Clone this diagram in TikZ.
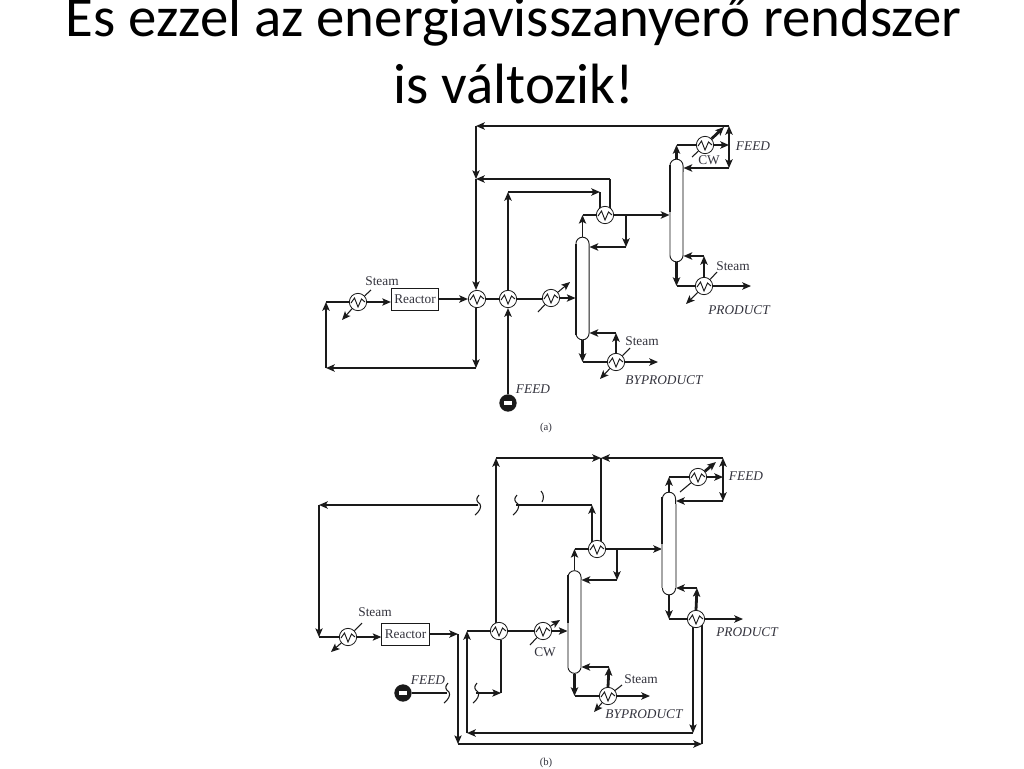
\documentclass[tikz,border=0pt]{standalone}
\usepackage{fontspec}
\setmainfont{Liberation Serif}
\newfontfamily\titlefont{Carlito}
\usetikzlibrary{arrows.meta,shapes.misc,backgrounds,calc}
\definecolor{ink}{HTML}{1A1A1A}
\definecolor{txt}{HTML}{33333D}
\tikzset{
 x=0.75pt,y=-0.75pt,
 thk/.style={draw=ink,line width=2.1pt,line join=miter},
 thn/.style={draw=ink,line width=0.8pt},
 tip/.style={-{Stealth[length=6.5pt,width=5.5pt,inset=1.5pt]}},
 hxn/.style={circle,draw=ink,line width=0.6pt,fill=white,minimum size=13pt,inner sep=0pt,
   path picture={\draw[ink,line width=0.7pt] ($(path picture bounding box.center)+(-7,1)$) -- ++(3.5,-5) -- ++(3.5,9) -- ++(3.5,-8) -- ++(3.5,3);}},
 colm/.style={rounded rectangle,rounded rectangle arc length=180,rotate=90,draw=ink,line width=0.7pt,fill=white,inner sep=0pt,minimum height=9.8pt,minimum width=77pt},
 lbl/.style={text=txt,font=\fontsize{10}{10}\selectfont,inner sep=0pt},
 ilbl/.style={text=txt,font=\fontsize{10}{10}\selectfont\itshape,inner sep=0pt},
 box/.style={draw=ink,line width=0.7pt,fill=white,inner sep=0pt,text=txt,font=\fontsize{10}{10}\selectfont},
 src/.style={circle,fill=ink,minimum size=13pt,inner sep=0pt,path picture={\fill[white] ($(path picture bounding box.center)+(-4,-2)$) rectangle ++(8,4);}},
 title/.style={font=\titlefont\fontsize{42.6}{46}\selectfont,text=black,inner sep=0pt,anchor=base},
 brk/.pic={\draw[thn] (1,-10) .. controls (-3,-6) and (-1,-3) .. (2,-1) .. controls (4,2) and (1,7) .. (-3,10);},
}
\begin{document}
\begin{tikzpicture}
\path[use as bounding box] (0,0) rectangle (1024,768);
\node[title] (t1) at (513.5,36) {Es ezzel az energiavisszanyerő rendszer};
\node[title] (t2) at (514,103) {is változik!};

% ---------- diagram (a)
\node[hxn] (aS) at (358,302) {};
\node[box,minimum width=35.5pt,minimum height=16.5pt] (aR) at (415,299) {Reactor};
\node[hxn] (a1) at (477,299) {};
\node[hxn] (a2) at (508,299) {};
\node[hxn] (a3) at (551,298) {};
\node[colm] (aC1) at (582.5,288.5) {};
\node[colm] (aC2) at (676.5,210.5) {};
\node[hxn] (aT) at (605,215) {};
\node[hxn] (aCW) at (705,145) {};
\node[hxn] (aP) at (704,286) {};
\node[hxn] (aB) at (616,362) {};
\node[src] (aF) at (508,403) {};
\node[lbl] (aL1) at (382,281) {Steam};
\node[ilbl] (aL2) at (533,389) {FEED};
\node[lbl] (aL3) at (709,160) {CW};
\node[ilbl] (aL4) at (753,146) {FEED};
\node[lbl] (aL5) at (733,266) {Steam};
\node[ilbl] (aL6) at (739,310) {PRODUCT};
\node[lbl] (aL7) at (642,341) {Steam};
\node[ilbl] (aL8) at (664,380) {BYPRODUCT};
\node[lbl,font=\fontsize{8}{8}\selectfont] (aL9) at (546,427.5) {(a)};

% ---------- diagram (b)
\node[hxn] (bS) at (348,637) {};
\node[box,minimum width=35.5pt,minimum height=16.5pt] (bR) at (405.5,634) {Reactor};
\node[hxn] (b1) at (499,631) {};
\node[hxn] (b3) at (543,631) {};
\node[colm] (bC1) at (574.5,622) {};
\node[colm] (bC2) at (669,543.5) {};
\node[hxn] (bT) at (597,549) {};
\node[hxn] (bCW) at (698,477) {};
\node[hxn] (bP) at (696,619) {};
\node[hxn] (bB) at (608,696) {};
\node[src] (bF) at (403,693) {};
\node[lbl] (bL1) at (375,612) {Steam};
\node[ilbl] (bL2) at (428,680) {FEED};
\node[lbl] (bL3) at (545,652) {CW};
\node[ilbl] (bL4) at (746,476) {FEED};
\node[ilbl] (bL6) at (747,632) {PRODUCT};
\node[lbl] (bL7) at (641,679) {Steam};
\node[ilbl] (bL8) at (644,714) {BYPRODUCT};
\node[lbl,font=\fontsize{8}{8}\selectfont] (bL9) at (546,763) {(b)};

\begin{scope}[on background layer]
\fill[white] (0,0) rectangle (1024,768);
% ---- (a) coordinates
\coordinate (aTopR) at (729,126);
\coordinate (aTopL) at (476,126);
\coordinate (aMid) at (476,179);
\coordinate (aMidR) at (610,179);
\coordinate (aBotC) at (476,368);
\coordinate (aBotL) at (326,368);
\coordinate (aLoop) at (326,302);
\coordinate (aUpL) at (508,192);
\coordinate (aUpR) at (600,192);
\coordinate (aCW1) at (729,168);
\coordinate (aCW0) at (729,145);
\coordinate (aBr) at (626,215);
\coordinate (aBr2) at (626,247);
\coordinate (aC1T) at (582.5,215);
\coordinate (aC2T) at (676.5,145);
\coordinate (aC2B) at (676.5,286);
\coordinate (aPu) at (704,256);
\coordinate (aC1B) at (582.5,362);
\coordinate (aBu) at (616,333);
% ---- (a) connectors
\draw[thk,tip] (aTopR) -- (aTopL);
\draw[thn,tip] (aTopL) -- (aMid);
\draw[thn,tip] (aMid) -- (aMid |- a1.north);
\draw[thn,tip] (aMid |- a1.south) -- (aBotC);
\draw[thn,line width=1.1pt,tip] (aMidR) -- (aMid);
\draw[thn] (aMidR) -- (aMidR |- aT.north east);
\draw[thk,tip] (aBotC) -- (aBotL);
\draw[thk,tip] (aBotL) -- (aLoop);
\draw[thn] (aLoop) -- (aS.west);
\draw[thn,tip] (aS.east) -- (aR.west |- aS.east);
\draw[thk,tip] (aR.east) -- (a1.west);
\draw[thk] (a1.east) -- (a2.west);
\draw[thk] (a2.east) -- (a2.east -| a3.west);
\draw[thn,tip] (a3.east) -- (a3.east -| aC1.north);
\draw[thk,tip] (aF.north) -- (a2.south);
\draw[thk,tip] (a2.north) -- (aUpL);
\draw[thk,tip] (aUpL) -- (aUpR);
\draw[thk] (aUpR) -- (aUpR |- aT.north west);
\draw[thn,tip] (aC1.east) -- (aC1T);
\draw[thk] (aC1T) -- (aT.west);
\draw[thk,tip] (aT.east) -- (aT.east -| aC2.north);
\draw[thk,tip] (aBr) -- (aBr2);
\draw[thk,tip] (aBr2) -- (aBr2 -| aC1.south);
\draw[thk,tip] (aC2.east) -- (aC2T);
\draw[thn] (aC2T) -- (aCW.west);
\draw[thk,tip] (aCW.east) -- (aCW0);
\draw[thn] (692,157) -- (aCW);
\draw[thk,tip] (aCW) -- (724,127);
\draw[thk,tip] (aCW0) -- (aTopR);
\draw[thk,tip] (aCW0) -- (aCW1);
\draw[thk,tip] (aCW1) -- (aCW1 -| aC2.south);
\draw[thk,tip] (aC2.west) -- (aC2B);
\draw[thn] (aC2B) -- (aP.west);
\draw[thk,tip] (aP.east) -- (751,286);
\draw[thk,tip] (aP.north) -- (aPu);
\draw[thk,tip] (aPu) -- (aPu -| aC2.south);
\draw[thn] (aP) -- (717,272);
\draw[thn,tip] (aP) -- (686,304);
\draw[thk,tip] (aC1.west) -- (aC1B);
\draw[thk] (aC1B) -- (aB.west);
\draw[thk,tip] (aB.east) -- (658,362);
\draw[thk,tip] (aB.north) -- (aBu);
\draw[thk,tip] (aBu) -- (aBu -| aC1.south);
\draw[thn] (aB) -- (630,348);
\draw[thn,tip] (aB) -- (600,379);
\draw[thn] (aS) -- (371,290);
\draw[thn,tip] (aS) -- (342,320);
\draw[thn] (538,312) -- (a3);
\draw[thn,tip] (a3) -- (570,282);

% ---- (b) coordinates
\coordinate (bTopL) at (496,458);
\coordinate (bTopM) at (601,458);
\coordinate (bTopR) at (723,458);
\coordinate (bBrA) at (478,505);
\coordinate (bBrB) at (516,505);
\coordinate (bLoopT) at (319,505);
\coordinate (bLoopB) at (319,637);
\coordinate (bV) at (458,634);
\coordinate (bVb) at (458,744);
\coordinate (bHr) at (702,744);
\coordinate (bW) at (467,733);
\coordinate (bWu) at (467,631);
\coordinate (bVr) at (693,733);
\coordinate (bSide) at (501,693);
\coordinate (bBrC) at (476,693);
\coordinate (bBrD) at (447,693);
\coordinate (bBrE) at (592,505);
\coordinate (bBr) at (617,549);
\coordinate (bBr2) at (617,580);
\coordinate (bCW1) at (723,501);
\coordinate (bCW0) at (723,477);
\coordinate (bC1T) at (574.5,549);
\coordinate (bC2T) at (669,477);
\coordinate (bC2B) at (669,619);
\coordinate (bPu) at (697,588);
\coordinate (bC1B) at (574.5,696);
\coordinate (bBu) at (609,667);
% ---- (b) connectors
\draw[thk,tip] (bTopL |- b1.center) -- (bTopL);
\draw[thk,tip] (bTopL) -- (bTopM);
\draw[thk,tip] (bTopR) -- (bTopM);
\draw[thn] (bTopM) -- (bTopM |- bT.north east);
\draw[thk,tip] (bBrA) -- (bLoopT);
\draw[thn,tip] (bLoopT) -- (bLoopB);
\draw[thk] (bLoopB) -- (bS.west);
\draw[thn,tip] (bS.east) -- (bR.west |- bS.east);
\draw[thk,tip] (bR.east) -- (bV);
\draw[thn,tip] (bV) -- (bVb);
\draw[thk,tip] (bVb) -- (bHr);
\draw[thk] (bHr) -- (bHr |- bP.south east);
\draw[thk,tip] (bVr) -- (bW);
\draw[thk,tip] (bW) -- (bWu);
\draw[thk] (bWu) -- (b1.west);
\draw[thn,tip] (bVr |- bP.south west) -- (bVr);
\draw[thn] (b1.east) -- (b3.west);
\draw[thn,tip] (b3.east) -- (b3.east -| bC1.north);
\draw[thn] (bSide |- b1.south) -- (bSide);
\draw[thn,tip] (bBrC) -- (bSide);
\draw[thk] (bF.east) -- (bBrD);
\draw[thk] (bBrB) -- (bBrE);
\draw[thk,tip] (bBrE |- bT.north west) -- (bBrE);
\draw[thn,tip] (bC1.east) -- (bC1T);
\draw[thk] (bC1T) -- (bT.west);
\draw[thk,tip] (bT.east) -- (bT.east -| bC2.north);
\draw[thk,tip] (bBr) -- (bBr2);
\draw[thk,tip] (bBr2) -- (bBr2 -| bC1.south);
\draw[thk,tip] (bC2.east) -- (bC2T);
\draw[thn] (bC2T) -- (bCW.west);
\draw[thk,tip] (bCW.east) -- (bCW0);
\draw[thn] (680,492) -- (bCW);
\draw[thk,tip] (bCW) -- (716,462);
\draw[thk,tip] (bCW0) -- (bTopR);
\draw[thk,tip] (bCW0) -- (bCW1);
\draw[thk,tip] (bCW1) -- (bCW1 -| bC2.south);
\draw[thk,tip] (bC2.west) -- (bC2B);
\draw[thk] (bC2B) -- (bP.west);
\draw[thk,tip] (bP.east) -- (743,619);
\draw[thk,tip] (bP.north) -- (bPu);
\draw[thk,tip] (bPu) -- (bPu -| bC2.south);
\draw[thk,tip] (bC1.west) -- (bC1B);
\draw[thk] (bC1B) -- (bB.west);
\draw[thk,tip] (bB.east) -- (650,696);
\draw[thk,tip] (bB.north) -- (bBu);
\draw[thn,tip] (bBu) -- (bBu -| bC1.south);
\draw[thn] (bB) -- (622,685);
\draw[thn,tip] (bB) -- (594,712);
\draw[thn] (bS) -- (362,623);
\draw[thn,tip] (bS) -- (331,652);
\draw[thn] (530,645) -- (b3);
\draw[thn,tip] (b3) -- (560,620);
\end{scope}

% column wall accents
\draw[thk] (670,165) -- (670,212);
\draw[thn] (576,244) -- (576,335);
\draw[thk] (568,575) -- (568,623);
\draw[thk] (662,497) -- (662,544);
\draw[draw=gray!70,line width=1.2pt] (581,580) -- (581,668);
\draw[draw=gray!70,line width=1.2pt] (568,623) -- (568,668);
\draw[draw=gray!70,line width=1.2pt] (676,504) -- (676,588);
\draw[draw=gray!70,line width=1.2pt] (662,544) -- (662,588);
\draw[draw=gray!70,line width=1.2pt] (683,172) -- (683,255);

\pic at (bBrA) {brk};
\pic at (bBrB) {brk};
\pic at (bBrC) {brk};
\pic at (bBrD) {brk};
\draw[thn] (541,491) .. controls (544,494) and (544,499) .. (542,502);
\end{tikzpicture}
\end{document}
